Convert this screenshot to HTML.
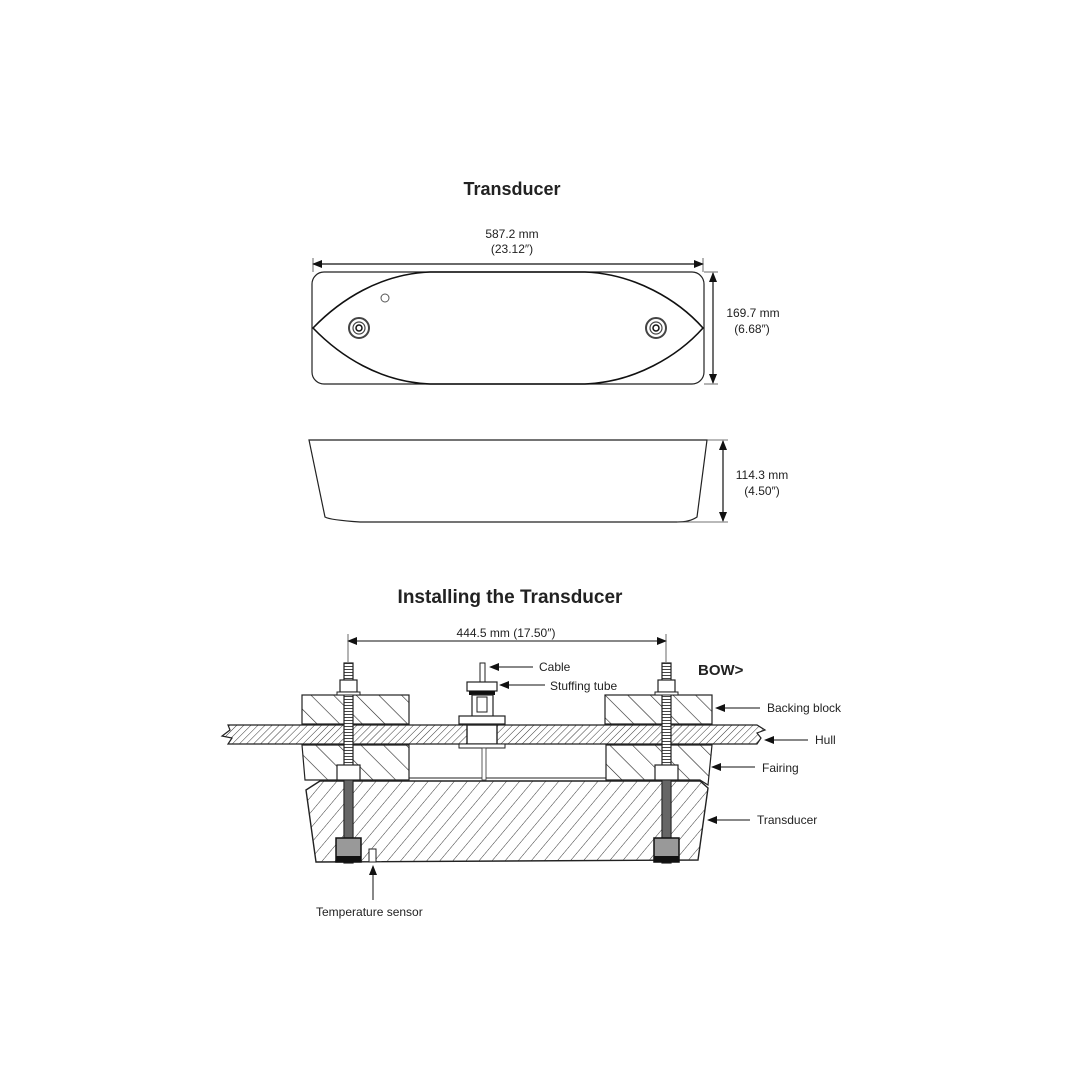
<!DOCTYPE html>
<html><head><meta charset="utf-8"><style>
html,body{margin:0;padding:0;background:#fff}
svg{display:block}
text{font-family:"Liberation Sans",sans-serif;fill:#222}
</style></head><body>
<svg width="1080" height="1080" viewBox="0 0 1080 1080" xmlns="http://www.w3.org/2000/svg">
<defs>
<pattern id="coarse" patternUnits="userSpaceOnUse" width="16" height="16" patternTransform="rotate(-45)">
<line x1="0" y1="0" x2="0" y2="16" stroke="#222" stroke-width="1.2"/></pattern>
<pattern id="fine" patternUnits="userSpaceOnUse" width="5" height="5" patternTransform="rotate(45)">
<line x1="0" y1="0" x2="0" y2="5" stroke="#222" stroke-width="0.9"/></pattern>
<pattern id="med" patternUnits="userSpaceOnUse" width="10" height="10" patternTransform="rotate(40)">
<line x1="0" y1="0" x2="0" y2="10" stroke="#222" stroke-width="0.9"/></pattern>
<pattern id="thread" patternUnits="userSpaceOnUse" width="9" height="3">
<rect width="9" height="3" fill="#fff"/><line x1="0" y1="0.5" x2="9" y2="0.5" stroke="#444" stroke-width="1"/></pattern>
<marker id="ar" markerWidth="10" markerHeight="8" refX="9" refY="4" orient="auto-start-reverse" markerUnits="userSpaceOnUse">
<path d="M0,0 L10,4 L0,8 z" fill="#111"/></marker>
</defs>

<text x="512" y="195" font-size="18" font-weight="bold" text-anchor="middle" fill="#111">Transducer</text>
<text x="512" y="238" font-size="12" text-anchor="middle">587.2 mm</text>
<text x="512" y="253" font-size="12" text-anchor="middle">(23.12″)</text>
<line x1="313" y1="264" x2="703" y2="264" stroke="#111" stroke-width="1.2" marker-end="url(#ar)" marker-start="url(#ar)"/>
<line x1="313" y1="258" x2="313" y2="272" stroke="#444" stroke-width="0.8"/>
<line x1="703" y1="258" x2="703" y2="272" stroke="#444" stroke-width="0.8"/>

<rect x="312" y="272" width="392" height="112" rx="12" fill="none" stroke="#222" stroke-width="1.2"/>
<path d="M313,328 C340,300 380,274 430,272 L585,272 C635,274 678,300 703,328 C678,356 635,382 585,384 L430,384 C380,382 340,356 313,328 Z" fill="none" stroke="#111" stroke-width="1.6"/>
<circle cx="385" cy="298" r="4" fill="none" stroke="#555" stroke-width="1"/>
<g fill="none" stroke="#444"><circle cx="359" cy="328" r="10" stroke-width="2"/><circle cx="359" cy="328" r="6" stroke-width="1.2"/><circle cx="359" cy="328" r="3" stroke="#111" stroke-width="1.5"/>
<circle cx="656" cy="328" r="10" stroke-width="2"/><circle cx="656" cy="328" r="6" stroke-width="1.2"/><circle cx="656" cy="328" r="3" stroke="#111" stroke-width="1.5"/></g>
<line x1="713" y1="273" x2="713" y2="383" stroke="#111" stroke-width="1.2" marker-end="url(#ar)" marker-start="url(#ar)"/>
<line x1="704" y1="272" x2="718" y2="272" stroke="#444" stroke-width="0.8"/>
<line x1="704" y1="384" x2="718" y2="384" stroke="#444" stroke-width="0.8"/>
<text x="753" y="317" font-size="12" text-anchor="middle">169.7 mm</text>
<text x="752" y="333" font-size="12" text-anchor="middle">(6.68″)</text>

<path d="M309,440 L707,440 L697,517 Q690,522 677,522 L360,522 Q330,520 325,517 Z" fill="none" stroke="#222" stroke-width="1.2"/>
<line x1="723" y1="441" x2="723" y2="521" stroke="#111" stroke-width="1.2" marker-end="url(#ar)" marker-start="url(#ar)"/>
<line x1="707" y1="440" x2="728" y2="440" stroke="#444" stroke-width="0.8"/>
<line x1="677" y1="522" x2="728" y2="522" stroke="#444" stroke-width="0.8"/>
<text x="762" y="479" font-size="12" text-anchor="middle">114.3 mm</text>
<text x="762" y="495" font-size="12" text-anchor="middle">(4.50″)</text>

<text x="510" y="603" font-size="19" font-weight="bold" text-anchor="middle" fill="#111">Installing the Transducer</text>
<text x="506" y="637" font-size="12" text-anchor="middle">444.5 mm (17.50″)</text>
<line x1="348" y1="641" x2="666" y2="641" stroke="#111" stroke-width="1" marker-end="url(#ar)" marker-start="url(#ar)"/>
<line x1="348" y1="634" x2="348" y2="662" stroke="#444" stroke-width="0.8"/>
<line x1="666" y1="634" x2="666" y2="662" stroke="#444" stroke-width="0.8"/>

<rect x="302" y="695" width="107" height="29" fill="url(#coarse)" stroke="#222" stroke-width="1.2"/>
<rect x="605" y="695" width="107" height="29" fill="url(#coarse)" stroke="#222" stroke-width="1.2"/>
<path d="M302,745 L409,745 L409,780 L305,780 Z" fill="url(#coarse)" stroke="#222" stroke-width="1.2"/>
<path d="M606,745 L712,745 L708,785 L700,780 L606,780 Z" fill="url(#coarse)" stroke="#222" stroke-width="1.2"/>
<path d="M228,725 L757,725 L765,730 L757,733 L761,738 L757,744 L228,744 L232,738 L222,736 L230,730 Z" fill="url(#fine)" stroke="#222" stroke-width="1.2"/>
<path d="M320,781 L700,781 L708,788 L698,860 L316,862 L306,790 Z" fill="url(#med)" stroke="#222" stroke-width="1.4"/>
<line x1="409" y1="778" x2="606" y2="778" stroke="#222" stroke-width="1"/>

<rect x="480" y="663" width="5" height="20" fill="#fff" stroke="#222" stroke-width="1"/>
<rect x="467" y="682" width="30" height="9" fill="#fff" stroke="#222" stroke-width="1.2"/>
<rect x="469" y="691" width="26" height="4" fill="#111"/>
<rect x="472" y="695" width="21" height="22" fill="#fff" stroke="#222" stroke-width="1.2"/>
<rect x="477" y="697" width="10" height="15" fill="#fff" stroke="#222" stroke-width="1"/>
<rect x="459" y="716" width="46" height="8" fill="#fff" stroke="#222" stroke-width="1.2"/>
<rect x="467" y="725" width="30" height="19" fill="#fff" stroke="#222" stroke-width="1.4"/>
<rect x="459" y="744" width="46" height="4" fill="#fff" stroke="#222" stroke-width="1"/>
<rect x="482" y="748" width="4" height="32" fill="#fff" stroke="#333" stroke-width="0.8"/>

<g id="bolt">
<rect x="344" y="663" width="9" height="200" fill="url(#thread)" stroke="#222" stroke-width="1.2"/>
<rect x="340" y="680" width="17" height="12" fill="#fff" stroke="#222" stroke-width="1.2"/>
<rect x="337" y="692" width="23" height="3" fill="#fff" stroke="#222" stroke-width="1"/>
<rect x="337" y="765" width="23" height="15" fill="#fff" stroke="#222" stroke-width="1.2"/>
<rect x="344" y="780" width="9" height="58" fill="#666" stroke="#222"/>
<rect x="336" y="838" width="25" height="24" fill="#999" stroke="#111" stroke-width="1.5"/>
<rect x="336" y="856" width="25" height="6" fill="#111"/>
</g>
<use href="#bolt" transform="translate(318,0)"/>
<rect x="369" y="849" width="7" height="13" fill="#fff" stroke="#222"/>

<g stroke="#111" stroke-width="1" marker-end="url(#ar)">
<line x1="533" y1="667" x2="490" y2="667"/>
<line x1="545" y1="685" x2="500" y2="685"/>
<line x1="760" y1="708" x2="716" y2="708"/>
<line x1="808" y1="740" x2="765" y2="740"/>
<line x1="755" y1="767" x2="712" y2="767"/>
<line x1="750" y1="820" x2="708" y2="820"/>
<line x1="373" y1="900" x2="373" y2="866"/>
</g>
<text x="539" y="671" font-size="12">Cable</text>
<text x="550" y="690" font-size="12">Stuffing tube</text>
<text x="698" y="675" font-size="15" font-weight="bold" fill="#111">BOW&gt;</text>
<text x="767" y="712" font-size="12">Backing block</text>
<text x="815" y="744" font-size="12">Hull</text>
<text x="762" y="772" font-size="12">Fairing</text>
<text x="757" y="824" font-size="12">Transducer</text>
<text x="316" y="916" font-size="12">Temperature sensor</text>
</svg>
</body></html>
